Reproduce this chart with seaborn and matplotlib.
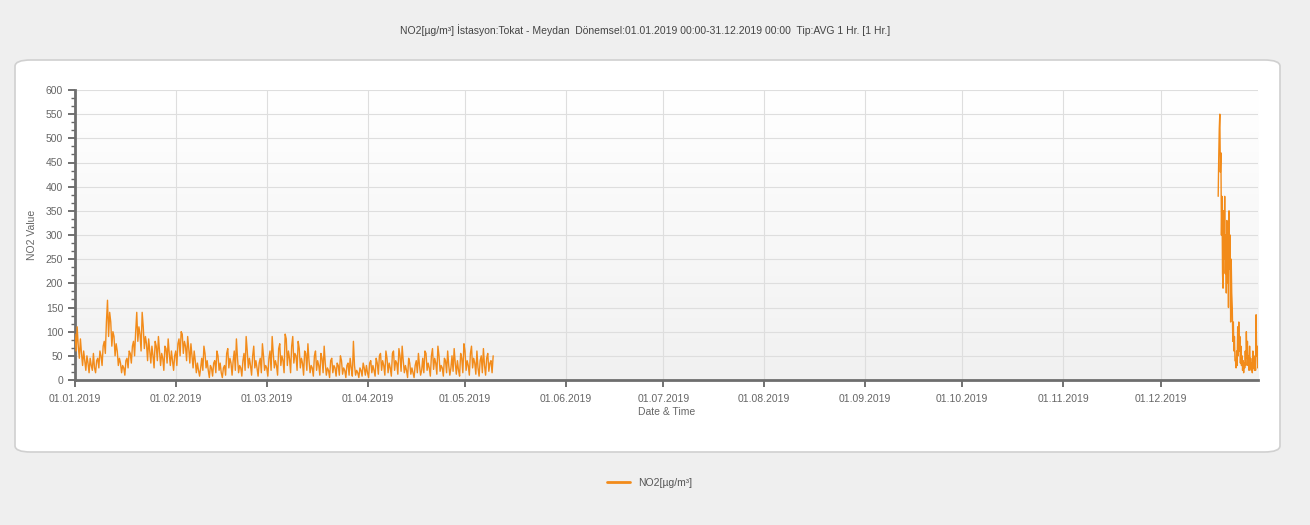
import numpy as np
import pandas as pd
import matplotlib
matplotlib.use("Agg")
import matplotlib.pyplot as plt
import matplotlib.dates as mdates
from matplotlib.patches import FancyBboxPatch
from matplotlib.ticker import MultipleLocator, AutoMinorLocator
import seaborn as sns

# Hourly-averaged NO2 at Tokat - Meydan, sampled every 8 h (Jan 1 - May 9)
spring_start = "2019-01-01 00:00"
spring_step_hours = 8
no2_spring = [
    # January
    95, 60, 110, 70, 45, 85, 55, 30, 60, 40, 20, 50, 35, 15, 45, 30, 20, 55,
    25, 15, 40, 45, 25, 60, 50, 30, 70, 80, 55, 120, 165, 90, 140, 120, 70, 100,
    90, 50, 75, 60, 30, 45, 35, 15, 30, 25, 10, 40, 45, 25, 60, 55, 35, 70,
    80, 50, 100, 140, 80, 110, 95, 60, 140, 110, 65, 90, 75, 40, 85, 60, 35, 70,
    50, 25, 80, 70, 40, 90, 60, 30, 55, 45, 20, 70, 65, 35, 85, 55, 30, 60,
    40, 20, 50,
    # February
    60, 30, 75, 85, 50, 100, 95, 55, 80, 70, 40, 90, 65, 35, 75, 50, 25, 60,
    40, 15, 35, 20, 8, 25, 45, 20, 70, 55, 25, 40, 20, 5, 30, 25, 8, 35,
    40, 15, 60, 50, 20, 35, 15, 5, 25, 30, 10, 55, 65, 25, 45, 35, 10, 40,
    60, 20, 85, 45, 15, 30, 25, 8, 40, 55, 20, 90, 60, 25, 45, 30, 10, 50,
    70, 25, 40, 25, 8, 35, 45, 15, 75, 50, 20, 30,
    # March
    25, 8, 45, 60, 20, 90, 55, 25, 40, 30, 10, 65, 75, 30, 50, 40, 15, 95,
    85, 30, 60, 45, 15, 70, 90, 35, 55, 50, 20, 80, 65, 25, 45, 35, 10, 60,
    55, 20, 75, 40, 15, 30, 25, 8, 50, 60, 20, 40, 30, 10, 55, 45, 15, 70,
    35, 10, 25, 20, 5, 40, 45, 15, 30, 25, 8, 35, 30, 10, 50, 40, 12, 25,
    20, 5, 30, 35, 10, 45, 25, 8, 80, 30, 10, 20, 15, 5, 25, 20, 8, 35,
    25, 10, 30,
    # April
    15, 5, 35, 40, 15, 30, 20, 8, 45, 35, 12, 50, 55, 20, 40, 30, 10, 60,
    45, 15, 35, 25, 8, 55, 60, 20, 40, 35, 12, 65, 50, 18, 70, 40, 15, 30,
    20, 5, 45, 35, 12, 25, 15, 5, 30, 40, 15, 55, 30, 10, 20, 45, 15, 60,
    55, 20, 35, 25, 8, 50, 65, 22, 45, 35, 12, 70, 50, 18, 30, 25, 8, 45,
    40, 15, 60, 30, 10, 25, 50, 18, 65, 35, 12, 40, 20, 8, 55, 45, 15, 75,
    # May
    60, 20, 40, 30, 10, 55, 70, 25, 45, 35, 12, 60, 25, 8, 40, 50, 15, 65,
    30, 10, 45, 55, 18, 35, 40, 15, 50,
]

# December episode, sampled every 4 h (Dec 18 18:00 - Dec 31)
winter_start = "2019-12-18 18:00"
winter_step_hours = 4
no2_winter = [
    380, 460,
    520, 550, 430, 470, 300, 380,
    220, 190, 350, 250, 380, 220,
    300, 180, 330, 200, 280, 150,
    350, 230, 300, 120, 250, 180,
    150, 80, 120, 60, 90, 40,
    40, 25, 60, 30, 110, 50,
    120, 60, 90, 35, 70, 30,
    50, 20, 40, 15, 35, 25,
    60, 30, 100, 45, 80, 30,
    50, 20, 70, 25, 45, 20,
    35, 15, 60, 25, 50, 20,
    40, 20, 135, 50, 70, 25,
    45, 20, 35, 30,
]

title_text = ("NO2[µg/m³] İstasyon:Tokat - Meydan  Dönemsel:01.01.2019 00:00-31.12.2019 00:00  "
              "Tip:AVG 1 Hr. [1 Hr.]")
series_name = "NO2[µg/m³]"
y_label = "NO2 Value"
x_label = "Date & Time"

spring = pd.DataFrame({
    "time": pd.date_range(spring_start, periods=len(no2_spring), freq=f"{spring_step_hours}h"),
    "value": no2_spring, "segment": "spring"})
winter = pd.DataFrame({
    "time": pd.date_range(winter_start, periods=len(no2_winter), freq=f"{winter_step_hours}h"),
    "value": no2_winter, "segment": "winter"})
df = pd.concat([spring, winter], ignore_index=True)

sns.set_style("white")
narrow = ["Liberation Sans Narrow", "Liberation Sans", "DejaVu Sans"]
plt.rcParams["font.family"] = narrow

W, H = 1310, 525
fig = plt.figure(figsize=(W / 100, H / 100), dpi=100)
fig.patch.set_facecolor("#efefef")

# White rounded panel behind the chart
panel = FancyBboxPatch((15 / W, 1 - 452 / H), 1265 / W, 392 / H,
                       boxstyle="round,pad=0,rounding_size=0.012",
                       transform=fig.transFigure, facecolor="white",
                       edgecolor="#d0d0d0", linewidth=1.2, zorder=-5)
fig.patches.append(panel)

ax = fig.add_axes([75 / W, 1 - 380 / H, (1258 - 75) / W, (380 - 90) / H])
ax.set_zorder(1)
ax.set_facecolor("none")

# Soft vertical gradient inside the plotting area
grad = np.linspace(1, 0, 256).reshape(-1, 1)
ax.imshow(grad, extent=[0, 1, 0, 1], transform=ax.transAxes, aspect="auto",
          cmap=matplotlib.colors.LinearSegmentedColormap.from_list("g", ["#f1f1f1", "#ffffff"]),
          vmin=0, vmax=1, zorder=0, origin="upper")

sns.lineplot(data=df, x="time", y="value", units="segment", estimator=None,
             color="#f28b1a", linewidth=1.0, ax=ax, zorder=3)

ax.set_xlim(pd.Timestamp("2019-01-01"), pd.Timestamp("2019-12-31"))
ax.set_ylim(0, 600)
ax.xaxis.set_major_locator(mdates.MonthLocator())
ax.xaxis.set_major_formatter(mdates.DateFormatter("%d.%m.%Y"))
ax.yaxis.set_major_locator(MultipleLocator(50))
ax.yaxis.set_minor_locator(AutoMinorLocator(3))

ax.grid(True, which="major", color="#dedede", linewidth=0.8, zorder=1)
ax.set_axisbelow(True)
for side in ("top", "right"):
    ax.spines[side].set_visible(False)
for side in ("left", "bottom"):
    ax.spines[side].set_color("#6e6e6e")
    ax.spines[side].set_linewidth(2.0)

ax.tick_params(axis="both", which="both", left=True, bottom=True)
ax.tick_params(axis="both", which="major", direction="out", length=5, width=1.3,
               colors="#666666", labelcolor="#666666", labelsize=7.5)
ax.tick_params(axis="y", which="minor", direction="out", length=3, width=1, colors="#666666")
ax.tick_params(axis="x", which="minor", bottom=False)
ax.tick_params(axis="x", which="major", pad=5)

ax.set_xlabel(x_label, fontsize=7.5, color="#666666", labelpad=2)
ax.set_ylabel(y_label, fontsize=7.5, color="#666666", labelpad=6)

fig.text(645 / W, 1 - 30 / H, title_text, ha="center", va="center",
         fontsize=7.5, color="#444444")

line = ax.get_lines()[0]
fig.legend([line], [series_name], loc="center", bbox_to_anchor=(650 / W, 1 - 483 / H),
           frameon=False, fontsize=7.5, handlelength=2.2, labelcolor="#555555")
for l in fig.legends[0].get_lines():
    l.set_linewidth(2)

fig.savefig("out.png", dpi=100, facecolor=fig.get_facecolor())
